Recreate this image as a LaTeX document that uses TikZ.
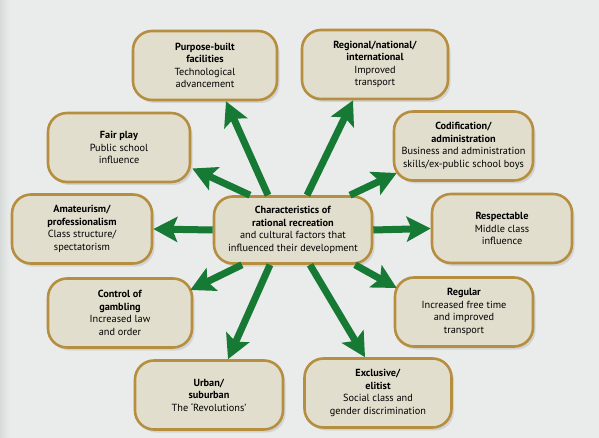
\documentclass[tikz,border=0pt]{standalone}
\usepackage{fontspec}
\setmainfont{PT Sans}
\usetikzlibrary{arrows.meta,calc,shadows}
\definecolor{bgc}{RGB}{234,236,236}
\definecolor{edgec}{RGB}{214,219,217}
\definecolor{boxfill}{RGB}{226,222,206}
\definecolor{boxline}{RGB}{182,142,64}
\definecolor{arrowc}{RGB}{22,122,52}
\tikzset{
  box/.style={draw=boxline, line width=2.6pt, fill=boxfill, rounded corners=19pt,
    minimum width=142pt, minimum height=69pt, align=center, inner sep=2pt,
    font=\fontsize{10.3}{12.5}\selectfont,
    drop shadow={opacity=0.22, shadow xshift=2.5pt, shadow yshift=-3pt}},
  garrow/.style={draw=arrowc, line width=7pt,
    -{Stealth[length=24pt,width=25pt,inset=5pt]}}
}
\begin{document}
\begin{tikzpicture}[x=1pt,y=-1pt]
\useasboundingbox (0,0) rectangle (599,438);
\fill[bgc] (0,0) rectangle (599,438);
\shade[left color=edgec, right color=bgc] (0,0) rectangle (10,438);

\node[box, minimum width=158pt, minimum height=67pt] (c) at (293,230)
  {\textbf{Characteristics of}\\\textbf{rational recreation}\\and cultural factors that\\influenced their development};
\node[box, minimum width=144pt] (pb) at (205,65.5)
  {\textbf{Purpose-built}\\\textbf{facilities}\\Technological\\advancement};
\node[box, minimum width=146pt] (rg) at (375,64.5)
  {\textbf{Regional/national/}\\\textbf{international}\\Improved\\transport};
\node[box] (fp) at (119,147.5)
  {\textbf{Fair play}\\Public school\\influence};
\node[box, minimum width=139pt] (cd) at (463.5,146)
  {\textbf{Codification/}\\\textbf{administration}\\Business and administration\\skills/ex-public school boys};
\node[box, minimum width=140pt] (am) at (82,229)
  {\textbf{Amateurism/}\\\textbf{professionalism}\\Class structure/\\spectatorism};
\node[box, minimum width=140pt] (rs) at (502,228.5)
  {\textbf{Respectable}\\Middle class\\influence};
\node[box, minimum width=144pt] (ct) at (120,313)
  {\textbf{Control of}\\\textbf{gambling}\\Increased law\\and order};
\node[box, minimum width=138pt] (rr) at (464,312)
  {\textbf{Regular}\\Increased free time\\and improved\\transport};
\node[box, minimum width=148pt] (ub) at (209,395)
  {\textbf{Urban/}\\\textbf{suburban}\\The ‘Revolutions’};
\node[box, minimum width=147pt] (ex) at (378,393)
  {\textbf{Exclusive/}\\\textbf{elitist}\\Social class and\\gender discrimination};

\draw[garrow] ($(c.north)+(-25,0)$) -- ($(pb.south)+(21,0)$);
\draw[garrow] ($(c.north)+(14,0)$) -- ($(rg.south)+(-22,0)$);
\draw[garrow] ($(c.north)+(-43,0)$) -- ($(fp.east)+(1,21)$);
\draw[garrow] ($(c.north)+(57,0)$) -- ($(cd.west)+(4,27)$);
\draw[garrow] (c.west) -- (am.east);
\draw[garrow] (c.east) -- (rs.west);
\draw[garrow] ($(c.south)+(-51,0)$) -- ($(ct.east)+(-3,-23)$);
\draw[garrow] ($(c.south)+(62,0)$) -- ($(rr.west)+(3,-24)$);
\draw[garrow] ($(c.south)+(-23,0)$) -- ($(ub.north)+(19,0)$);
\draw[garrow] ($(c.south)+(17,0)$) -- ($(ex.north)+(-13,0)$);
\end{tikzpicture}
\end{document}
